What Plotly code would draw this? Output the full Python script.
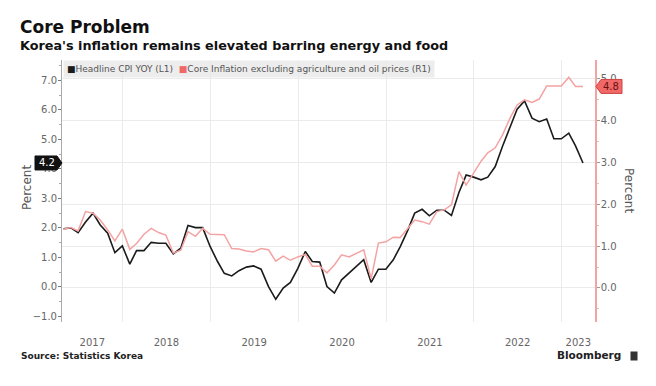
import pandas as pd
import plotly.graph_objects as go

# ---------------- data (monthly, Apr 2017 - Mar 2023, plotted at month end) ----------------
months = pd.date_range(start="2017-04-01", periods=72, freq="MS") + pd.offsets.MonthEnd(0)

headline_cpi = [
    1.97, 2.00, 1.84, 2.20, 2.50, 2.10, 1.82, 1.16, 1.39,                    # 2017 Apr-Dec
    0.77, 1.23, 1.23, 1.51, 1.48, 1.48, 1.12, 1.31, 2.08, 2.01, 2.01, 1.37,  # 2018
    0.86, 0.46, 0.37, 0.55, 0.67, 0.71, 0.60, 0.01, -0.42, -0.04, 0.15, 0.63,  # 2019
    1.20, 0.86, 0.84, 0.01, -0.21, 0.24, 0.46, 0.71, 0.92, 0.15, 0.60, 0.60,  # 2020
    0.92, 1.35, 1.90, 2.50, 2.63, 2.41, 2.60, 2.60, 2.42, 3.20, 3.79, 3.72,  # 2021
    3.63, 3.72, 4.08, 4.76, 5.43, 6.02, 6.30, 5.72, 5.60, 5.69, 5.02, 5.02,  # 2022
    5.21, 4.78, 4.20,                                                        # 2023
]

core_cpi = [
    1.40, 1.44, 1.36, 1.82, 1.78, 1.62, 1.38, 1.12, 1.40,                    # 2017 Apr-Dec
    0.92, 1.06, 1.28, 1.42, 1.32, 1.26, 0.83, 0.90, 1.34, 1.23, 1.42, 1.28,  # 2018
    1.27, 1.27, 0.94, 0.93, 0.88, 0.86, 0.94, 0.91, 0.64, 0.76, 0.66, 0.74,  # 2019
    0.80, 0.52, 0.52, 0.36, 0.55, 0.79, 0.74, 0.83, 0.91, 0.22, 1.07, 1.10,  # 2020
    1.21, 1.20, 1.40, 1.62, 1.58, 1.52, 1.82, 1.86, 1.98, 2.77, 2.45, 2.72,  # 2021
    3.02, 3.22, 3.34, 3.64, 4.04, 4.36, 4.48, 4.42, 4.50, 4.81, 4.81, 4.81,  # 2022
    5.02, 4.80, 4.80,                                                        # 2023
]

year_labels = ["2017", "2018", "2019", "2020", "2021", "2022", "2023"]

series_names = ["Headline CPI YOY (L1)",
                "Core Inflation excluding agriculture and oil prices (R1)"]

# ---------------- styling ----------------
BLACK = "#1b1b1b"
PINK = "#f4a3a3"
RED = "#f06868"
GRID = "#ebebeb"
FONT = "DejaVu Sans"
TICK_FONT = dict(family=FONT, size=10, color="#666666")

# plot area in pixels: x 62..595, y 60..322
L, R, T, B = 62, 595, 60, 322
W, H = R - L, B - T


def px(x):
    return (x - L) / W


def py(y):
    return (B - y) / H


x_start = pd.Timestamp("2017-04-24")
x_end = pd.Timestamp("2023-05-20")

# year labels centred in the visible part of each year, gridlines at year starts
label_pos, year_starts = [], []
for lab in year_labels:
    a = pd.Timestamp(f"{lab}-01-01")
    b = pd.Timestamp(f"{int(lab) + 1}-01-01")
    if a > x_start:
        year_starts.append(a)
    lo, hi = max(a, x_start), min(b, x_end)
    label_pos.append(lo + (hi - lo) / 2)

fig = go.Figure()
fig.add_trace(go.Scatter(x=months, y=headline_cpi, name=series_names[0], mode="lines",
                         line=dict(color=BLACK, width=1.6), yaxis="y", showlegend=False))
fig.add_trace(go.Scatter(x=months, y=core_cpi, name=series_names[1], mode="lines",
                         line=dict(color=PINK, width=1.5), yaxis="y2", showlegend=False))

fig.update_layout(
    width=656, height=386,
    margin=dict(l=L, r=656 - R, t=T, b=386 - B),
    paper_bgcolor="white", plot_bgcolor="white",
    font=dict(family=FONT, color="#444444"),
    title=dict(text="<b>Core Problem</b>", xref="container", x=20 / 656, xanchor="left",
               yref="container", y=1 - 27 / 386, yanchor="middle",
               font=dict(family=FONT, size=17, color="#111111")),
    xaxis=dict(type="date", range=[x_start, x_end], tickmode="array",
               tickvals=label_pos, ticktext=year_labels, ticks="", showgrid=False,
               showline=False, zeroline=False, tickfont=TICK_FONT, ticklabelstandoff=13,
               minor=dict(tickmode="array", tickvals=year_starts, showgrid=True,
                          gridcolor=GRID, gridwidth=1, ticks="")),
    yaxis=dict(range=[-1.19, 7.69], tickmode="linear", tick0=0, dtick=1, tickformat=".1f",
               ticks="outside", ticklen=3, tickcolor="#777777", showline=True,
               linecolor="#aaaaaa", linewidth=1, showgrid=False, zeroline=False,
               tickfont=TICK_FONT, ticklabelstandoff=-1,
               minor=dict(dtick=0.5, ticks="outside", ticklen=2, tickcolor="#aaaaaa")),
    yaxis2=dict(overlaying="y", side="right", range=[-0.81, 5.43], tickmode="linear",
                tick0=0, dtick=1, tickformat=".1f", ticks="outside", ticklen=3,
                tickcolor="#999999", showline=True, linecolor=PINK, linewidth=1.5,
                showgrid=True, gridcolor=GRID, gridwidth=1, zeroline=False,
                tickfont=TICK_FONT, ticklabelstandoff=-1,
                minor=dict(dtick=0.5, ticks="outside", ticklen=2, tickcolor="#cccccc")),
)

# end-value tags (pointer shapes sized in pixels, anchored to the last data values)
last_h, last_c = headline_cpi[-1], core_cpi[-1]
fig.add_shape(type="path", xref="paper", yref="y", xsizemode="pixel", ysizemode="pixel",
              xanchor=0, yanchor=last_h, path="M 0,0 L -5,7 L -27,7 L -27,-7 L -5,-7 Z",
              fillcolor="#111111", line=dict(color="#111111", width=1), layer="above")
fig.add_shape(type="path", xref="paper", yref="y2", xsizemode="pixel", ysizemode="pixel",
              xanchor=1, yanchor=last_c, path="M 1,0 L 6,7 L 27,7 L 27,-7 L 6,-7 Z",
              fillcolor=RED, line=dict(color="#cc4444", width=1), layer="above")

annotations = [
    dict(text=f"{last_h:.1f}", xref="paper", yref="y", x=0, y=last_h, xshift=-15,
         xanchor="center", yanchor="middle", showarrow=False,
         font=dict(family=FONT, size=10, color="white")),
    dict(text=f"{last_c:.1f}", xref="paper", yref="y2", x=1, y=last_c, xshift=16,
         xanchor="center", yanchor="middle", showarrow=False,
         font=dict(family=FONT, size=10, color="#6a1010")),
    # subtitle
    dict(text="<b>Korea's inflation remains elevated barring energy and food</b>",
         xref="paper", yref="paper", x=px(18), y=py(45),
         xanchor="left", yanchor="middle", showarrow=False,
         font=dict(family=FONT, size=12.8, color="#111111")),
    # legend strip
    dict(text=(f'<span style="color:{BLACK}">■</span>{series_names[0]}  '
               f'<span style="color:{RED}">■</span>{series_names[1]}'),
         xref="paper", yref="paper", x=0, y=1, xshift=1, xanchor="left", yanchor="top",
         showarrow=False, bgcolor="rgba(234,234,234,0.85)", borderpad=3,
         font=dict(family=FONT, size=9, color="#555555")),
    # axis titles
    dict(text="Percent", xref="paper", yref="paper", x=px(27), y=py(188),
         xanchor="center", yanchor="middle", textangle=-90, showarrow=False,
         font=dict(family=FONT, size=12, color="#555555")),
    dict(text="Percent", xref="paper", yref="paper", x=px(629), y=py(190),
         xanchor="center", yanchor="middle", textangle=90, showarrow=False,
         font=dict(family=FONT, size=12, color="#555555")),
    # source
    dict(text="<b>Source: Statistics Korea</b>", xref="paper", yref="paper",
         x=px(19), y=py(356), xanchor="left", yanchor="middle",
         showarrow=False, font=dict(family=FONT, size=9, color="#222222")),
    # Bloomberg mark
    dict(text="<b>Bloomberg</b>", xref="paper", yref="paper", x=px(623),
         y=py(355), xanchor="right", yanchor="middle", showarrow=False,
         font=dict(family=FONT, size=10.5, color="#222222")),
    dict(text=" ", xref="paper", yref="paper", x=px(634), y=py(356),
         xanchor="center", yanchor="middle",
         width=6, height=8, bgcolor="#333333", showarrow=False, borderpad=0),
]
fig.update_layout(annotations=annotations)

fig.write_html("out.html", config={"displayModeBar": False},
               post_script="document.body.style.margin='0';")
